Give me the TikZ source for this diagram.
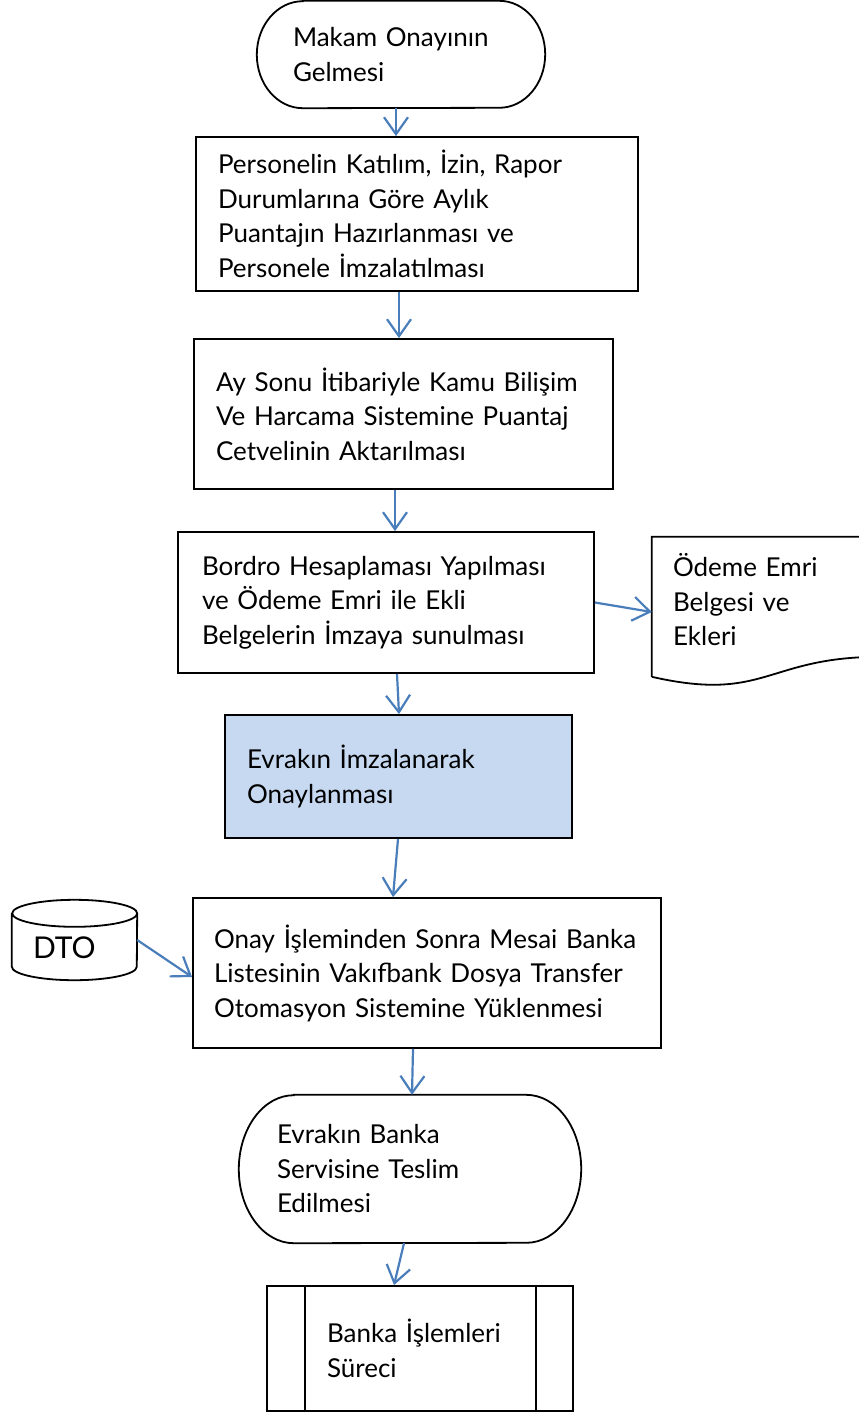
\documentclass[tikz,border=0pt]{standalone}
\usepackage{fontspec}
\setmainfont{Lato}
\usetikzlibrary{arrows.meta}
\definecolor{arrowblue}{HTML}{4A7EBB}
\definecolor{approvefill}{HTML}{C6D9F1}

\begin{document}
\begin{tikzpicture}[x=1pt, y=1pt,
    every node/.style ={font=\fontsize{26}{34.5}\selectfont},
    process/.style ={rectangle, draw, line width=1.8pt, align=left, inner sep=0pt},
    terminal/.style ={rectangle, align=left, inner sep=0pt},
    outline/.style ={line width=1.8pt},
    flow/.style ={draw=arrowblue, line width=2.2pt, -{Straight Barb[length=17pt, width=24pt]}}]
   \useasboundingbox (0,0) rectangle (859,-1413);

   \node[terminal, minimum width=288pt, minimum height=107pt, text width=216pt] (start) at (401,-54.5) {Makam Onayının\\Gelmesi};
   \node[process, minimum width=442pt, minimum height=154pt, text width=398pt] (puantaj) at (417,-214) {Personelin Katılım, İzin, Rapor\\Durumlarına Göre Aylık\\Puantajın Hazırlanması ve\\Personele İmzalatılması};
   \node[process, minimum width=419pt, minimum height=150pt, text width=375pt] (aktarim) at (403.5,-414) {Ay Sonu İtibariyle Kamu Bilişim\\Ve Harcama Sistemine Puantaj\\Cetvelinin Aktarılması};
   \node[process, minimum width=416pt, minimum height=141pt, text width=368pt] (bordro) at (386,-602.5) {Bordro Hesaplaması Yapılması\\ve Ödeme Emri ile Ekli\\Belgelerin İmzaya sunulması};
   \node[terminal, minimum width=228pt, minimum height=126pt, text width=186pt] (belge) at (766,-600) {Ödeme Emri\\Belgesi ve\\Ekleri};
   \node[process, fill=approvefill, minimum width=347pt, minimum height=123pt, text width=303pt] (onay) at (398.5,-776.5) {Evrakın İmzalanarak\\Onaylanması};
   \node[process, minimum width=468pt, minimum height=150pt, text width=426pt] (yukleme) at (427,-973) {Onay İşleminden Sonra Mesai Banka\\Listesinin Vakıfbank Dosya Transfer\\Otomasyon Sistemine Yüklenmesi};
   \node[terminal, minimum width=125pt, minimum height=80pt, text width=83pt, font=\fontsize{30}{36}\selectfont, text height=37.6pt, text depth=0pt] (dto) at (74.5,-940) {DTO};
   \node[terminal, minimum width=342pt, minimum height=148pt, text width=266pt] (teslim) at (410,-1169) {Evrakın Banka\\Servisine Teslim\\Edilmesi};
   \node[process, minimum width=306pt, minimum height=125pt, text width=186pt] (banka) at (420,-1348.5) {Banka İşlemleri\\Süreci};

   % terminal outlines
   \draw[outline] ([xshift=46pt]start.north west) -- ([xshift=-46pt]start.north east)
      arc[start angle=90, end angle=-90, x radius=46pt, y radius=53.5pt]
      -- ([xshift=46pt]start.south west)
      arc[start angle=270, end angle=90, x radius=46pt, y radius=53.5pt] -- cycle;
   \draw[outline] ([xshift=55pt]teslim.north west) -- ([xshift=-55pt]teslim.north east)
      arc[start angle=90, end angle=-90, x radius=55pt, y radius=74pt]
      -- ([xshift=55pt]teslim.south west)
      arc[start angle=270, end angle=90, x radius=55pt, y radius=74pt] -- cycle;

   % document shape
   \draw[outline] ([yshift=-140pt]belge.north west) -- (belge.north west) -- (belge.north east)
      -- ([yshift=-120pt]belge.north east)
      .. controls ([yshift=-120pt]belge.north) and ([yshift=-166pt]belge.north) .. ([yshift=-140pt]belge.north west);

   % data store
   \draw[outline] ([yshift=-13.5pt]dto.north west) -- ([yshift=13.5pt]dto.south west)
      arc[start angle=180, end angle=360, x radius=62.5pt, y radius=13.5pt]
      -- ([yshift=-13.5pt]dto.north east)
      arc[start angle=0, end angle=180, x radius=62.5pt, y radius=13.5pt]
      arc[start angle=180, end angle=360, x radius=62.5pt, y radius=13.5pt];

   % predefined process bars
   \draw[outline] ([xshift=39pt]banka.north west) to ([xshift=39pt]banka.south west);
   \draw[outline] ([xshift=-38pt]banka.north east) to ([xshift=-38pt]banka.south east);

   \draw[flow] ([xshift=-5pt]start.south) to ([xshift=-5pt]start.south |- puantaj.north);
   \draw[flow] ([xshift=-18pt]puantaj.south) to ([xshift=-4.5pt]aktarim.north);
   \draw[flow] ([xshift=-8.5pt]aktarim.south) to ([xshift=9pt]bordro.north);
   \draw[flow] (bordro.east) to ([yshift=-12pt]belge.west);
   \draw[flow] ([xshift=11pt]bordro.south) to ([xshift=0.5pt]onay.north);
   \draw[flow] ([xshift=-0.5pt]onay.south) to ([xshift=-34pt]yukleme.north);
   \draw[flow] (dto.east) to ([yshift=-4pt]yukleme.west);
   \draw[flow] ([xshift=-14pt]yukleme.south) to ([xshift=2pt]teslim.north);
   \draw[flow] ([xshift=-6pt]teslim.south) to ([xshift=-26pt]banka.north);
\end{tikzpicture}
\end{document}
